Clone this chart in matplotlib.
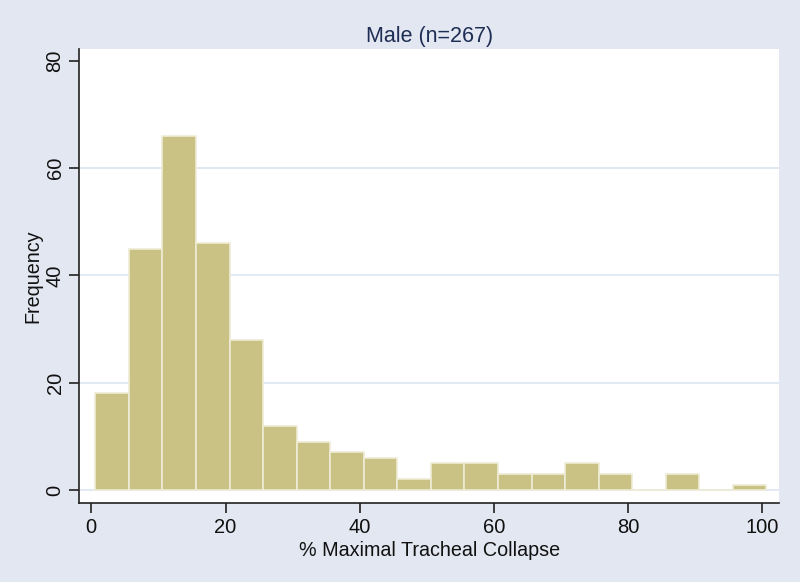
import matplotlib
matplotlib.use("Agg")
import matplotlib.pyplot as plt
import numpy as np

# histogram bins (width 5, starting near 0.6) and counts
bin_start = 0.6
bin_width = 5
counts = [18, 45, 66, 46, 28, 12, 9, 7, 6, 2, 5, 5, 3, 3, 5, 3, 0, 3, 0, 1]
x_ticks = [0, 20, 40, 60, 80, 100]
y_ticks = [0, 20, 40, 60, 80]
title = "Male (n=267)"

bg = "#E3E7F1"
bar_color = "#C9C284"
plt.rcParams['font.family'] = ['Liberation Sans', 'DejaVu Sans']

edges = bin_start + bin_width * np.arange(len(counts) + 1)

fig = plt.figure(figsize=(8, 5.82), dpi=100, facecolor=bg)
ax = fig.add_axes([0.099, 0.136, 0.875, 0.780])
ax.set_facecolor("white")

ax.bar(edges[:-1], counts, width=bin_width, align="edge",
       color=bar_color, edgecolor="#EFECD6", linewidth=1.2, zorder=3)

for y in [0, 20, 40, 60]:
    ax.axhline(y, color="#DCE6F0", linewidth=1.2, zorder=1)

ax.set_xlim(-1.8, 102.5)
ax.set_ylim(-2.4, 82.2)
ax.set_xticks(x_ticks)
ax.set_yticks(y_ticks)
ax.tick_params(axis="both", direction="out", length=7, width=1.2,
               labelsize=14.5, color="#222222", labelcolor="#111111")
ax.tick_params(axis="x", pad=4)
for lab in ax.get_yticklabels():
    lab.set_rotation(90)
    lab.set_va("center")

for s in ["top", "right"]:
    ax.spines[s].set_visible(False)
for s in ["left", "bottom"]:
    ax.spines[s].set_linewidth(1.2)
    ax.spines[s].set_color("#222222")

ax.set_xlabel("% Maximal Tracheal Collapse", fontsize=14.2, labelpad=3, color="#111111")
ax.set_ylabel("Frequency", fontsize=14.2, labelpad=2, color="#111111")

fig.text(0.537, 0.937, title, ha="center", va="center", fontsize=15.5,
         color="#1E2D54")

fig.savefig("out.png", dpi=100, facecolor=bg)
